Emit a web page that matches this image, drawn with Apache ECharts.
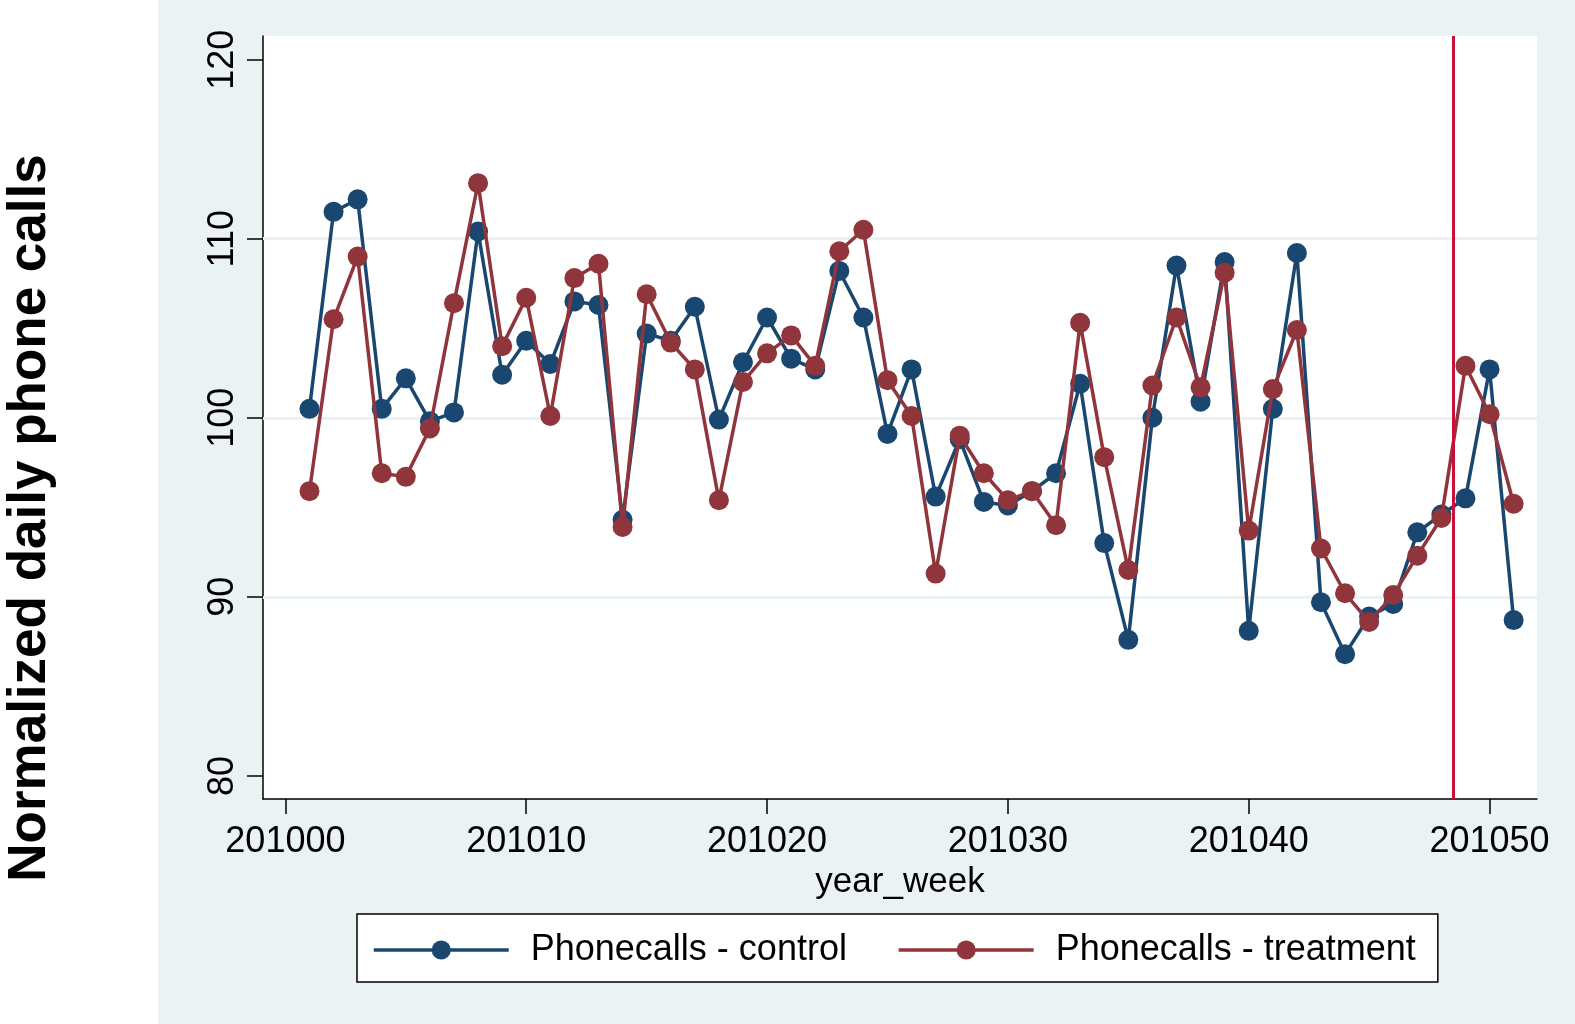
<!DOCTYPE html>
<html>
<head>
<meta charset="utf-8">
<title>Phone calls</title>
<script src="https://cdn.jsdelivr.net/npm/echarts@6/dist/echarts.min.js"></script>
<style>
  html, body { margin: 0; padding: 0; background: #fff; }
  #main { width: 1575px; height: 1024px; }
</style>
</head>
<body>
<div id="main"></div>
<script>
// year_week 201001 .. 201051
var weeks = [];
for (var w = 1; w <= 51; w++) weeks.push(201000 + w);

var control = [
  100.5, 111.5, 112.2, 100.5, 102.2, 99.8, 100.3, 110.4, 102.4, 104.3,
  103.0, 106.5, 106.3, 94.3, 104.7, 104.3, 106.2, 99.9, 103.1, 105.6,
  103.3, 102.7, 108.2, 105.6, 99.1, 102.7, 95.6, 98.8, 95.3, 95.1,
  95.9, 96.9, 101.9, 93.0, 87.6, 100.0, 108.5, 100.9, 108.7, 88.1,
  100.5, 109.2, 89.7, 86.8, 88.9, 89.6, 93.6, 94.6, 95.5, 102.7,
  88.7
];

var treatment = [
  95.9, 105.5, 109.0, 96.9, 96.7, 99.4, 106.4, 113.1, 104.0, 106.7,
  100.1, 107.8, 108.6, 93.9, 106.9, 104.2, 102.7, 95.4, 102.0, 103.6,
  104.6, 102.9, 109.3, 110.5, 102.1, 100.1, 91.3, 99.0, 96.9, 95.4,
  95.9, 94.0, 105.3, 97.8, 91.5, 101.8, 105.6, 101.7, 108.1, 93.7,
  101.6, 104.9, 92.7, 90.2, 88.6, 90.1, 92.3, 94.4, 102.9, 100.2,
  95.2
];

var xTicks = [201000, 201010, 201020, 201030, 201040, 201050];
var yTicks = [80, 90, 100, 110, 120];
var yGrid = [90, 100, 110];
var cutWeek = 201048.5;

var font = 'Liberation Sans, Arial, Helvetica, sans-serif';
var navy = '#1a476f';
var maroon = '#90353b';

function pairs(vals) {
  return vals.map(function (v, i) { return [weeks[i], v]; });
}

var chart = echarts.init(document.getElementById('main'));

chart.setOption({
  backgroundColor: '#eaf2f3',
  animation: false,
  graphic: [
    {
      type: 'rect',
      left: 0, top: 0,
      shape: { width: 158, height: 1024 },
      style: { fill: '#fff' },
      silent: true
    },
    {
      type: 'text',
      x: 30, y: 518,
      rotation: Math.PI / 2,
      style: {
        text: 'Normalized daily phone calls',
        font: 'bold 53px ' + font,
        fill: '#000',
        align: 'center',
        verticalAlign: 'middle'
      }
    }
  ],
  grid: {
    left: 263, right: 38, top: 36, bottom: 225,
    show: true, backgroundColor: '#fff', borderWidth: 0
  },
  legend: {
    left: 357, top: 914,
    itemWidth: 135, itemHeight: 24, itemGap: 50,
    padding: [14, 22, 10, 15],
    backgroundColor: '#fff', borderColor: '#000', borderWidth: 1.5,
    lineStyle: { width: 3.5 },
    textStyle: { fontSize: 36, lineHeight: 40, color: '#000', fontFamily: font, padding: [4, 0, 0, 17] },
    data: ['Phonecalls - control', 'Phonecalls - treatment']
  },
  xAxis: {
    type: 'value',
    min: 200999.07, max: 201051.97,
    name: 'year_week', nameLocation: 'middle', nameGap: 62,
    nameTextStyle: { fontSize: 35, color: '#000', fontFamily: font },
    axisLine: { onZero: false, lineStyle: { color: '#000', width: 1.5 } },
    axisTick: { show: true, length: 15, customValues: xTicks, lineStyle: { color: '#000', width: 1.5 } },
    axisLabel: {
      customValues: xTicks, fontSize: 36, color: '#000', fontFamily: font, margin: 25,
      formatter: function (v) { return String(v); }
    },
    splitLine: { show: false }
  },
  yAxis: {
    type: 'value',
    min: 78.71, max: 121.32,
    axisLine: { show: true, lineStyle: { color: '#000', width: 1.5 } },
    axisTick: { show: true, length: 16, customValues: yTicks, lineStyle: { color: '#000', width: 1.5 } },
    axisLabel: {
      customValues: yTicks, rotate: 90, fontSize: 36, color: '#000', fontFamily: font, margin: 22
    },
    splitLine: { show: false }
  },
  series: [
    {
      name: 'grid',
      type: 'line',
      data: [],
      silent: true,
      z: 1,
      markLine: {
        z: 1,
        silent: true, symbol: 'none', label: { show: false },
        lineStyle: { color: '#eaf2f3', width: 3, type: 'solid' },
        data: yGrid.map(function (v) { return { yAxis: v }; })
      }
    },
    {
      name: 'Phonecalls - control',
      type: 'line',
      data: pairs(control),
      z: 3,
      symbol: 'circle', symbolSize: 20,
      lineStyle: { color: navy, width: 3.5 },
      itemStyle: { color: navy },
      markLine: {
        z: 5,
        silent: true, symbol: 'none', label: { show: false },
        lineStyle: { color: '#c8103a', width: 3, type: 'solid' },
        data: [{ xAxis: cutWeek }]
      }
    },
    {
      name: 'Phonecalls - treatment',
      type: 'line',
      data: pairs(treatment),
      z: 4,
      symbol: 'circle', symbolSize: 20,
      lineStyle: { color: maroon, width: 3.5 },
      itemStyle: { color: maroon }
    }
  ]
});
</script>
</body>
</html>
